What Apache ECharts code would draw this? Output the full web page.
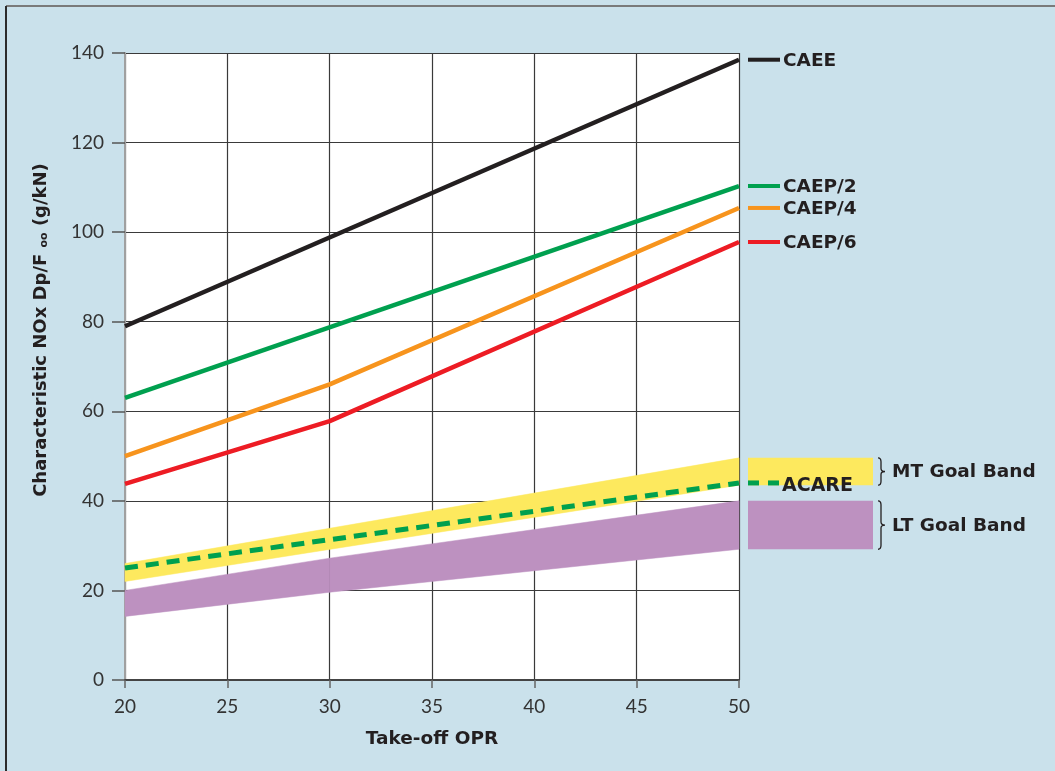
<!DOCTYPE html>
<html>
<head>
<meta charset="utf-8">
<script src="https://cdn.jsdelivr.net/npm/echarts@6/dist/echarts.min.js"></script>
<style>
html,body{margin:0;padding:0;background:#cae1eb;}
#chart{width:1055px;height:771px;}
</style>
</head>
<body>
<div id="chart"></div>
<script>
// ---- data ----
const xTicks = [20, 25, 30, 35, 40, 45, 50];
const caeeX = [20, 50];
const caeeY = [79, 138.5];
const caep2X = [20, 50];
const caep2Y = [63, 110.3];
const caep4X = [20, 30, 50];
const caep4Y = [50, 66, 105.4];
const caep6X = [20, 30, 50];
const caep6Y = [43.8, 57.8, 97.8];
const acareX = [20, 50];
const acareY = [25, 44];
const mtX = [20, 50];
const mtLow = [22, 43.5];
const mtHigh = [26, 49.6];
const ltX = [20, 30, 50];
const ltLow = [14.2, 19.6, 29.2];
const ltHigh = [20, 27.2, 40];
const seriesNames = ['CAEE', 'CAEP/2', 'CAEP/4', 'CAEP/6', 'ACARE'];
const bandNames = ['MT Goal Band', 'LT Goal Band'];

const FONT = 'Lato';
const BFONT = 'DejaVu Sans';
const TXT = '#231f20';
const colors = {
  'CAEE': '#231f20',
  'CAEP/2': '#00a04f',
  'CAEP/4': '#f7941d',
  'CAEP/6': '#ed1c24',
  'ACARE': '#00a04f',
  'MT Goal Band': '#fde95e',
  'LT Goal Band': '#bd91c0'
};

function zip(xs, ys) { return xs.map((x, i) => [x, ys[i]]); }

function lineSeries(name, xs, ys) {
  const c = colors[name];
  return {
    type: 'line', name: name, data: zip(xs, ys), z: 5,
    symbol: 'none', silent: true,
    lineStyle: { color: c, width: 4.5 },
    endLabel: {
      show: true, distance: 9,
      formatter: '{l|}{t|' + name + '}',
      rich: {
        l: { width: 32, height: 4, backgroundColor: c },
        t: { fontFamily: BFONT, fontWeight: 'bold', fontSize: 18.5, color: TXT, padding: [3, 0, 0, 3] }
      }
    }
  };
}

function bandSeries(name, xs, lows, highs) {
  const c = colors[name];
  return {
    type: 'custom', name: name, z: 2, silent: true, clip: false,
    coordinateSystem: 'cartesian2d',
    data: xs.map((x, i) => [x, lows[i], highs[i]]),
    renderItem: function (params, api) {
      const i = params.dataIndex;
      const children = [];
      const pLow = api.coord([api.value(0), api.value(1)]);
      const pHigh = api.coord([api.value(0), api.value(2)]);
      if (i < xs.length - 1) {
        const nLow = api.coord([xs[i + 1], lows[i + 1]]);
        const nHigh = api.coord([xs[i + 1], highs[i + 1]]);
        children.push({
          type: 'polygon',
          shape: { points: [pHigh, nHigh, nLow, pLow] },
          style: { fill: c, stroke: c, lineWidth: 0.5 }
        });
      } else {
        const x0 = pHigh[0] + 9;
        const y0 = pHigh[1];
        const h = pLow[1] - pHigh[1];
        children.push({
          type: 'rect',
          shape: { x: x0, y: y0, width: 125, height: h },
          style: { fill: c }
        });
        const bx = x0 + 130, bw = 7;
        const pd = 'M0 0 Q3 0 3 4 L3 ' + (h / 2 - 3) + ' Q3 ' + (h / 2) + ' 7 ' + (h / 2) +
          ' Q3 ' + (h / 2) + ' 3 ' + (h / 2 + 3) + ' L3 ' + (h - 4) + ' Q3 ' + h + ' 0 ' + h;
        children.push({
          type: 'path',
          shape: { pathData: pd, x: bx, y: y0, width: bw, height: h },
          style: { fill: null, stroke: TXT, lineWidth: 1.3 }
        });
        children.push({
          type: 'text',
          x: bx + 14, y: y0 + h / 2 + 1,
          style: {
            text: name, fontFamily: BFONT, fontWeight: 'bold', fontSize: 18.5, fill: TXT,
            verticalAlign: 'middle', align: 'left'
          }
        });
      }
      return { type: 'group', children: children };
    }
  };
}

const chart = echarts.init(document.getElementById('chart'), null, { renderer: 'canvas' });

const acare = lineSeries('ACARE', acareX, acareY);
acare.lineStyle = { color: colors['ACARE'], width: 5, type: [13, 8] };
acare.z = 4;
acare.endLabel.formatter = '{d|}{g|}{d|}{t|ACARE}';
acare.endLabel.rich = {
  d: { width: 11, height: 5, backgroundColor: colors['ACARE'] },
  g: { width: 9, height: 5 },
  t: { fontFamily: BFONT, fontWeight: 'bold', fontSize: 19, color: TXT, padding: [6, 0, 0, 3] }
};

const option = {
  backgroundColor: '#cae1eb',
  animation: false,
  grid: { left: 125, top: 53, right: 316, bottom: 91, show: true, backgroundColor: '#ffffff', borderWidth: 0 },
  xAxis: {
    type: 'value', min: 20, max: 50, interval: 5,
    name: 'Take-off OPR', nameLocation: 'middle', nameGap: 50,
    nameTextStyle: { fontFamily: BFONT, fontWeight: 'bold', fontSize: 18.5, color: TXT },
    axisLine: { show: true, lineStyle: { color: '#444', width: 2 } },
    axisTick: { show: true, length: 8, lineStyle: { color: '#666', width: 1.5 } },
    axisLabel: { margin: 17, fontFamily: FONT, fontSize: 19, color: '#333' },
    splitLine: { show: true, lineStyle: { color: '#3a3a3a', width: 1.2 } }
  },
  yAxis: {
    type: 'value', min: 0, max: 140, interval: 20,
    axisLine: { show: true, lineStyle: { color: '#a0a0a0', width: 2 } },
    axisTick: { show: true, length: 13, lineStyle: { color: '#555', width: 1.5 } },
    axisLabel: { margin: 21, fontFamily: FONT, fontSize: 19, color: '#333' },
    splitLine: { show: true, lineStyle: { color: '#3a3a3a', width: 1.2 } }
  },
  graphic: [
    { type: 'line', shape: { x1: 6, y1: 6, x2: 1055, y2: 6 }, style: { stroke: '#7a7a7a', lineWidth: 2 }, z: 100 },
    { type: 'line', shape: { x1: 6, y1: 6, x2: 6, y2: 771 }, style: { stroke: '#2b2b2b', lineWidth: 2 }, z: 100 },
    {
      type: 'text', x: 41, y: 330, rotation: Math.PI / 2,
      style: {
        text: 'Characteristic NOx Dp/F {s|oo} (g/kN)',
        fontFamily: BFONT, fontWeight: 'bold', fontSize: 18, fill: TXT,
        align: 'center', verticalAlign: 'middle',
        rich: { s: { fontFamily: BFONT, fontWeight: 'bold', fontSize: 11, fill: TXT, padding: [7, 0, 0, 0] } }
      }
    }
  ],
  series: [
    bandSeries('LT Goal Band', ltX, ltLow, ltHigh),
    bandSeries('MT Goal Band', mtX, mtLow, mtHigh),
    lineSeries('CAEE', caeeX, caeeY),
    lineSeries('CAEP/2', caep2X, caep2Y),
    lineSeries('CAEP/4', caep4X, caep4Y),
    lineSeries('CAEP/6', caep6X, caep6Y),
    acare
  ]
};
chart.setOption(option);
</script>
</body>
</html>
